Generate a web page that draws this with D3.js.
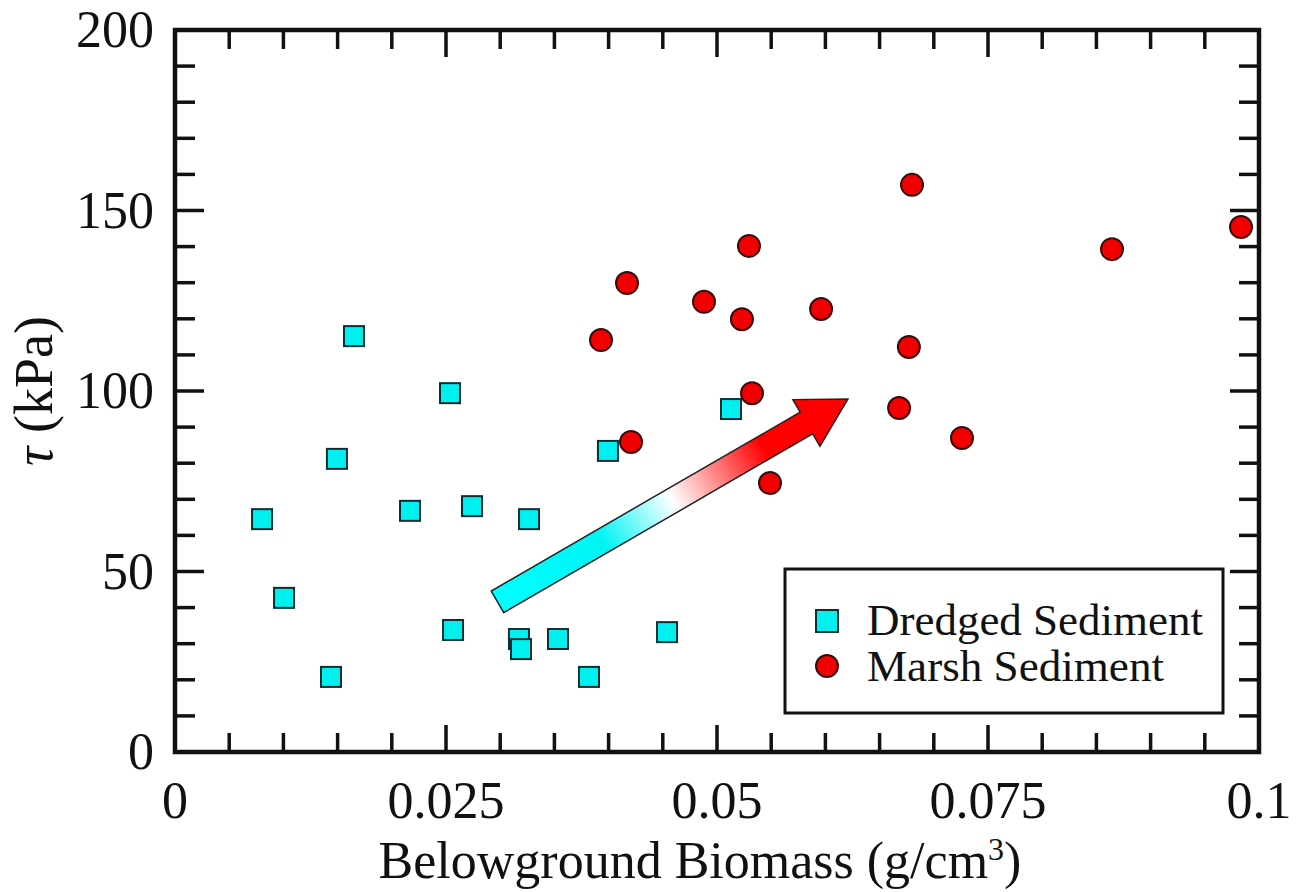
<!DOCTYPE html>
<html>
<head>
<meta charset="utf-8">
<script src="https://cdn.jsdelivr.net/npm/d3@7"></script>
<style>
  html, body { margin: 0; padding: 0; background: #fff; }
  svg { display: block; }
  text { font-family: "Liberation Serif", "Times New Roman", serif; fill: #111; }
</style>
</head>
<body>
<svg id="chart" width="1303" height="892"></svg>
<script>
// ---- data ----
const dredgedX = [0.00803, 0.01006, 0.01439, 0.01494, 0.01651, 0.02168, 0.02537, 0.02565, 0.0274, 0.03173, 0.03192, 0.03266, 0.03533, 0.03819, 0.03994, 0.04539, 0.05129];
const dredgedY = [64.5, 42.7, 20.8, 81.2, 115.2, 66.8, 99.4, 33.8, 68.1, 31.3, 28.5, 64.5, 31.3, 20.8, 83.4, 33.2, 95.0];
const marshX = [0.06799, 0.05295, 0.0417, 0.0488, 0.0523, 0.0596, 0.0393, 0.0677, 0.05323, 0.0668, 0.04207, 0.05489, 0.08644, 0.09834, 0.0726];
const marshY = [157.1, 140.2, 129.9, 124.7, 119.9, 122.7, 114.1, 112.2, 99.4, 95.3, 85.9, 74.5, 139.3, 145.4, 87.0];
const xTickValues = [0, 0.025, 0.05, 0.075, 0.1];
const xTickLabels = ["0", "0.025", "0.05", "0.075", "0.1"];
const yTickValues = [0, 50, 100, 150, 200];
const yTickLabels = ["0", "50", "100", "150", "200"];
const legendLabels = ["Dredged Sediment", "Marsh Sediment"];
const arrowFrom = [0.02975, 41.6];
const arrowTo = [0.06208, 97.8];

// ---- layout ----
const L = 175, R = 1259, T = 30, B = 752;
const svg = d3.select("#chart");
const x = d3.scaleLinear().domain([0, 0.1]).range([L, R]);
const y = d3.scaleLinear().domain([0, 200]).range([B, T]);

const xMinor = d3.range(0, 0.1001, 0.005).filter(v => !xTickValues.some(t => Math.abs(t - v) < 1e-9));
const yMinor = d3.range(0, 200.1, 10).filter(v => !yTickValues.includes(v));

const tickW = 3.5;
const g = svg.append("g");

// ticks (inward) on all four sides
function ticks(vals, len) {
  vals.forEach(v => {
    const px = x(v);
    g.append("line").attr("x1", px).attr("x2", px).attr("y1", B).attr("y2", B - len)
      .attr("stroke", "#111").attr("stroke-width", tickW);
    g.append("line").attr("x1", px).attr("x2", px).attr("y1", T).attr("y2", T + len)
      .attr("stroke", "#111").attr("stroke-width", tickW);
  });
}
ticks(xMinor, 19);
ticks(xTickValues.filter(v => v > 0 && v < 0.1), 27);
function yticks(vals, len) {
  vals.forEach(v => {
    const py = y(v);
    g.append("line").attr("x1", L).attr("x2", L + len).attr("y1", py).attr("y2", py)
      .attr("stroke", "#111").attr("stroke-width", tickW);
    g.append("line").attr("x1", R).attr("x2", R - len).attr("y1", py).attr("y2", py)
      .attr("stroke", "#111").attr("stroke-width", tickW);
  });
}
yticks(yMinor, 20);
yticks(yTickValues.filter(v => v > 0 && v < 200), 29);

// frame
g.append("rect").attr("x", L).attr("y", T).attr("width", R - L).attr("height", B - T)
  .attr("fill", "none").attr("stroke", "#111").attr("stroke-width", 4.5);

// tick labels
xTickValues.forEach((v, i) => {
  g.append("text").attr("x", x(v)).attr("y", 818).attr("text-anchor", "middle")
    .attr("font-size", 52).text(xTickLabels[i]);
});
yTickValues.forEach((v, i) => {
  g.append("text").attr("x", 154).attr("y", y(v) + 17).attr("text-anchor", "end")
    .attr("font-size", 52).text(yTickLabels[i]);
});

// axis titles
const xt = g.append("text").attr("x", 700).attr("y", 878).attr("text-anchor", "middle").attr("font-size", 52);
xt.append("tspan").text("Belowground Biomass (g/cm");
xt.append("tspan").attr("font-size", 32).attr("dy", -18).text("3");
xt.append("tspan").attr("dy", 18).text(")");

const yt = g.append("text").attr("transform", "translate(52,391) rotate(-90)").attr("text-anchor", "middle").attr("font-size", 54);
yt.append("tspan").attr("font-style", "italic").text("τ");
yt.append("tspan").text(" (kPa)");

// arrow with gradient
const defs = svg.append("defs");
const ax0 = x(arrowFrom[0]), ay0 = y(arrowFrom[1]), ax1 = x(arrowTo[0]), ay1 = y(arrowTo[1]);
const grad = defs.append("linearGradient").attr("id", "arrGrad").attr("gradientUnits", "userSpaceOnUse")
  .attr("x1", ax0).attr("y1", ay0).attr("x2", ax1).attr("y2", ay1);
[[0, "#00ffff"], [0.3, "#00f4f4"], [0.5, "#ffffff"], [0.76, "#ff0000"], [1, "#ff0000"]].forEach(s => {
  grad.append("stop").attr("offset", s[0]).attr("stop-color", s[1]);
});
const dx = ax1 - ax0, dy = ay1 - ay0, len = Math.hypot(dx, dy);
const ux = dx / len, uy = dy / len, nx = -uy, ny = ux;
const sw = 12.5, hw = 27, hl = 48;
const bx = ax1 - ux * hl, by = ay1 - uy * hl;
const pts = [
  [ax0 + nx * sw, ay0 + ny * sw],
  [bx + nx * sw, by + ny * sw],
  [bx + nx * hw, by + ny * hw],
  [ax1, ay1],
  [bx - nx * hw, by - ny * hw],
  [bx - nx * sw, by - ny * sw],
  [ax0 - nx * sw, ay0 - ny * sw]
];
g.append("path").attr("d", d3.line()(pts) + "Z").attr("fill", "url(#arrGrad)")
  .attr("stroke", "#222").attr("stroke-width", 1.5).attr("stroke-linejoin", "miter");

// points
const sq = 20;
g.selectAll("rect.dredged").data(dredgedX.map((v, i) => [v, dredgedY[i]])).enter()
  .append("rect").attr("class", "dredged")
  .attr("x", d => x(d[0]) - sq / 2).attr("y", d => y(d[1]) - sq / 2)
  .attr("width", sq).attr("height", sq)
  .attr("fill", "#00f0f0").attr("stroke", "#0c2f33").attr("stroke-width", 2);

g.selectAll("circle.marsh").data(marshX.map((v, i) => [v, marshY[i]])).enter()
  .append("circle").attr("class", "marsh")
  .attr("cx", d => x(d[0])).attr("cy", d => y(d[1])).attr("r", 11)
  .attr("fill", "#f00000").attr("stroke", "#3a0a0a").attr("stroke-width", 2);

// legend
const lg = g.append("g");
lg.append("rect").attr("x", 785).attr("y", 569).attr("width", 438).attr("height", 144)
  .attr("fill", "#fff").attr("stroke", "#111").attr("stroke-width", 3);
lg.append("rect").attr("x", 827 - 11).attr("y", 621 - 11).attr("width", 22).attr("height", 22)
  .attr("fill", "#00f0f0").attr("stroke", "#0c2f33").attr("stroke-width", 2);
lg.append("circle").attr("cx", 827).attr("cy", 666).attr("r", 11)
  .attr("fill", "#f00000").attr("stroke", "#3a0a0a").attr("stroke-width", 2);
legendLabels.forEach((t, i) => {
  lg.append("text").attr("x", 867).attr("y", 635 + i * 46).attr("font-size", 44)
    .attr("textLength", i === 0 ? 336 : 297).attr("lengthAdjust", "spacingAndGlyphs").text(t);
});
</script>
</body>
</html>
